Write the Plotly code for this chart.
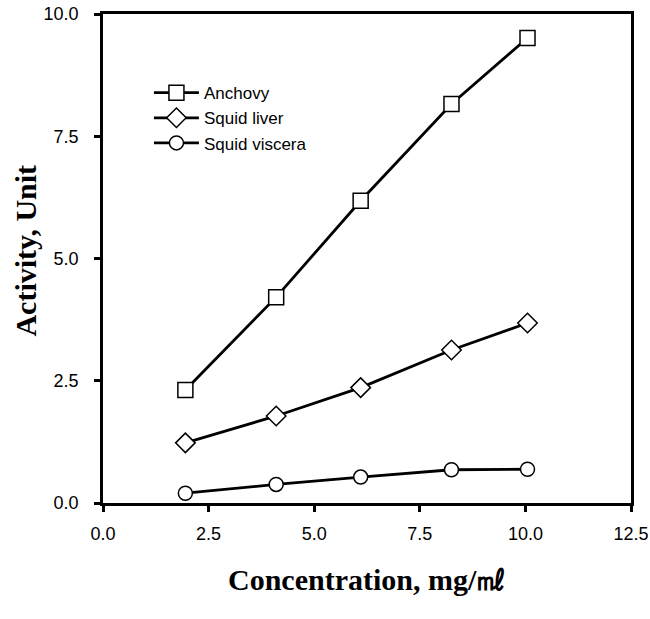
import plotly.graph_objects as go

conc = [1.95, 4.1, 6.1, 8.25, 10.05]
anchovy = [2.31, 4.21, 6.18, 8.16, 9.51]
squid_liver = [1.23, 1.78, 2.36, 3.13, 3.68]
squid_viscera = [0.2, 0.38, 0.53, 0.68, 0.69]

x_ticks = [0, 2.5, 5, 7.5, 10, 12.5]
y_ticks = [0, 2.5, 5, 7.5, 10]

series = [
    ("Anchovy", anchovy, "square", 15),
    ("Squid liver", squid_liver, "diamond", 15),
    ("Squid viscera", squid_viscera, "circle", 14),
]

fig = go.Figure()
for name, vals, sym, sz in series:
    fig.add_trace(go.Scatter(
        x=conc, y=vals, name=name, mode="lines+markers",
        line=dict(color="black", width=2.8),
        marker=dict(symbol=sym, size=sz, color="white",
                    line=dict(color="black", width=1.5)),
    ))

axis_common = dict(
    showgrid=False, zeroline=False, showline=True, linecolor="black",
    linewidth=2.8, mirror=True, ticks="outside", ticklen=6, tickwidth=2.5,
    tickcolor="black", tickformat=".1f", automargin=False,
    tickfont=dict(family="Liberation Sans", size=18, color="black"),
)

title_font = dict(family="Liberation Serif", size=30, color="black", weight="bold")

fig.update_layout(
    width=650, height=619,
    margin=dict(l=103, r=19, t=14, b=116),
    paper_bgcolor="white", plot_bgcolor="white",
    xaxis=dict(range=[0, 12.5], tickvals=x_ticks, ticklabelstandoff=6,
               **axis_common),
    yaxis=dict(range=[0, 10], tickvals=y_ticks, ticklabelstandoff=12,
               **axis_common),
    legend=dict(x=0.087, y=0.875, xanchor="left", yanchor="top",
                bgcolor="rgba(0,0,0,0)", tracegroupgap=0, itemwidth=45,
                font=dict(family="Liberation Sans", size=17, color="black")),
    annotations=[
        dict(text="Activity, Unit", textangle=-90, xref="paper", yref="paper",
             x=-0.146, y=0.516, xanchor="center", yanchor="middle",
             showarrow=False, font=title_font),
        dict(text="Concentration, mg/㎖", xref="paper", yref="paper",
             x=0.5, y=-0.157, xanchor="center", yanchor="middle",
             showarrow=False, font=title_font),
    ],
)

fig.write_html("out.html", config={"displayModeBar": False},
               post_script="document.body.style.margin='0';document.body.style.overflow='hidden';")
